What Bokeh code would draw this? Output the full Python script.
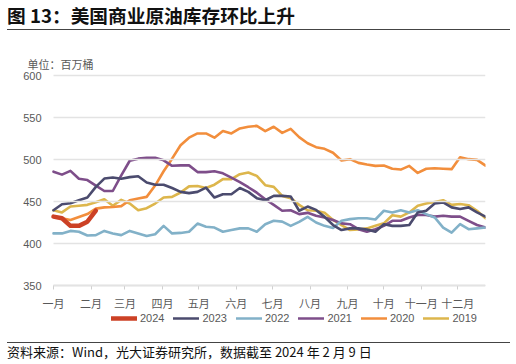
from bokeh.plotting import figure
from bokeh.models import (Range1d, FixedTicker, Legend, LegendItem, Label, Div, LinearAxis)
from bokeh.layouts import column
from bokeh.embed import file_html
from bokeh.resources import INLINE

# ---- data (weekly, million barrels) ----
month_labels = ["一月", "二月", "三月", "四月", "五月", "六月",
                "七月", "八月", "九月", "十月", "十一月", "十二月"]
month_days = [31, 28, 31, 30, 31, 30, 31, 31, 30, 31, 30, 31]
y_ticks = [350, 400, 450, 500, 550, 600]

s2024 = [432, 430, 421, 421, 426, 439]
s2023 = [439.6, 446.8, 448, 451.5, 454.7, 467.4, 477.3, 478.5, 477, 479,
         480, 472.6, 470, 470, 466, 461.5, 460, 461.5, 466.6, 454.7,
         458.7, 458.7, 466, 461.5, 454, 451.5, 456.7, 456.7, 456, 439,
         444, 440, 431.7, 422, 416, 418, 418, 416.6, 414, 423,
         421, 421, 422, 437, 439, 447.6, 449, 443, 441, 443,
         437, 432]
s2022 = [412, 412, 415, 414, 409.5, 410, 415, 412, 410, 415,
         412, 409, 411, 421, 412, 412.6, 414, 423.7, 420, 419,
         414, 416, 418, 418, 414, 423, 427, 426, 421, 425.7,
         431.7, 425, 421, 418.5, 427, 429, 430, 430, 428.6, 439,
         437, 439.6, 437, 439.6, 435, 431, 419, 413, 423, 417,
         418, 419]
s2021 = [485.5, 482, 486.5, 477, 475.5, 469, 462.5, 462.5, 481, 498.5,
         501, 502, 502, 499, 492.5, 493, 493, 485, 485, 486,
         483.5, 478.5, 473, 467, 460.5, 452.7, 446, 439, 439.6, 435,
         436.5, 433, 431, 428, 424, 423, 417, 414, 417, 421,
         427, 427, 431, 434, 434, 432, 433, 432, 432, 427,
         422, 419]
s2020 = [432, 430, 428, 431.5, 435, 441.5, 443, 443.5, 444.5, 451.5,
         453.5, 455.5, 469, 486, 501, 517, 526, 531, 531, 526,
         534, 531, 537, 539, 540, 533.7, 539, 531.7, 536.5, 526.6,
         519.4, 514.7, 512.7, 508, 498.8, 500.4, 496, 494, 492.4, 492.8,
         489, 488, 492.4, 484, 489, 489.6, 489, 488.5, 502.7, 500.4,
         499.6, 492.8]
s2019 = [439.6, 437, 444, 445, 446, 449, 452.7, 445, 452, 447.6,
         439.6, 442, 447.6, 454.7, 455.5, 460.7, 468, 468.5, 466, 470,
         476.6, 476.6, 482.5, 484.5, 480.5, 469.4, 467.4, 456.7, 454, 446,
         439.6, 439, 436.5, 428, 422, 416, 416.6, 418, 421, 424,
         433.7, 432, 437, 445, 447.6, 449.5, 451.5, 446, 447, 445.6,
         439, 430]

series = [
    ("2024", s2024, "#CC4125", 4.5),
    ("2023", s2023, "#4B4B6E", 2.6),
    ("2022", s2022, "#82B1C8", 2.6),
    ("2021", s2021, "#7E4E8A", 2.6),
    ("2020", s2020, "#F28E3C", 2.6),
    ("2019", s2019, "#DDB64C", 2.6),
]

# month start positions in week units
starts = []
acc = 0
for d in month_days:
    starts.append(acc / 7.0)
    acc += d

CJK = "Noto Sans CJK SC"
LAT = "Liberation Sans"
GRAY = "#595959"
GRID = "#E3E3E3"

n_weeks = len(s2023) - 1
px_per_week = 432.0 / n_weeks      # plotting area 432 px wide
px_per_unit = 210.0 / (y_ticks[-1] - y_ticks[0])   # 210 px tall

# frame is extended around the plotting area so legend / unit label stay inside it
pad_l, pad_b, pad_t = 33, 49, 25
p = figure(width=510, height=310, output_backend="svg", toolbar_location=None,
           x_range=Range1d(-pad_l / px_per_week, n_weeks),
           y_range=Range1d(y_ticks[0] - pad_b / px_per_unit, y_ticks[-1] + pad_t / px_per_unit),
           x_axis_location=None, y_axis_location=None,
           min_border_left=20, min_border_right=25,
           min_border_top=18, min_border_bottom=8)
p.outline_line_color = None
p.background_fill_color = "white"
p.xgrid.grid_line_color = None
p.ygrid.grid_line_color = None

yax = LinearAxis(fixed_location=0, ticker=FixedTicker(ticks=y_ticks))
yax.axis_line_color = None
yax.major_tick_in = 432
yax.major_tick_out = 0
yax.major_tick_line_color = GRID
yax.major_tick_line_width = 1.5
yax.minor_tick_line_color = None
yax.major_label_standoff = 12
yax.major_label_text_font = LAT
yax.major_label_text_font_size = "11px"
yax.major_label_text_color = GRAY
p.add_layout(yax, "left")

xax = LinearAxis(fixed_location=y_ticks[0], ticker=FixedTicker(ticks=starts),
                 bounds=(0, n_weeks))
xax.major_label_overrides = {s: m for s, m in zip(starts, month_labels)}
xax.axis_line_color = "#D0D0D0"
xax.axis_line_width = 1.5
xax.major_tick_line_color = "#D0D0D0"
xax.major_tick_in = 0
xax.major_tick_out = 4
xax.minor_tick_line_color = None
xax.major_label_standoff = 5
xax.major_label_text_font = CJK
xax.major_label_text_font_size = "11px"
xax.major_label_text_color = GRAY
p.add_layout(xax, "below")

items = []
for name, vals, color, lw in reversed(series):
    r = p.line(list(range(len(vals))), vals, line_color=color, line_width=lw,
               line_join="round", line_cap="round")
    items.append((name, r))
items = list(reversed(items))

legend = Legend(items=[LegendItem(label=n, renderers=[r]) for n, r in items],
                orientation="horizontal", location=(91, 10),
                padding=0, margin=0, spacing=9, glyph_width=26, glyph_height=12,
                label_standoff=3, label_height=12,
                label_text_font=LAT, label_text_font_size="11px",
                label_text_color=GRAY, border_line_color=None,
                background_fill_alpha=0)
p.add_layout(legend, "center")

unit = Label(x=7, y=271, x_units="screen", y_units="screen",
             text="单位：百万桶", text_font=CJK, text_font_size="11px",
             text_color=GRAY, text_baseline="middle")
p.add_layout(unit)

title = Div(text=("<div style=\"font-family:'Noto Sans CJK SC';font-weight:bold;"
                  "font-size:18.7px;color:#111;width:503px;height:30px;line-height:30px;"
                  "margin:0 0 0 7px;padding:0;box-sizing:border-box;"
                  "border-bottom:1.5px solid #444;\">"
                  "图 13：美国商业原油库存环比上升</div>"),
            width=510, height=32, margin=0)
src = Div(text=("<div style=\"font-family:'Noto Sans CJK SC';font-size:13px;color:#111;"
                "width:503px;margin:0 0 0 7px;border-top:1.5px solid #444;"
                "padding:0;line-height:18px;\">"
                "资料来源：Wind，光大证券研究所，数据截至 2024 年 2 月 9 日</div>"),
          width=510, height=22, margin=0)

layout = column(title, p, src, spacing=0)
open("out.html", "w").write(file_html(layout, INLINE))
